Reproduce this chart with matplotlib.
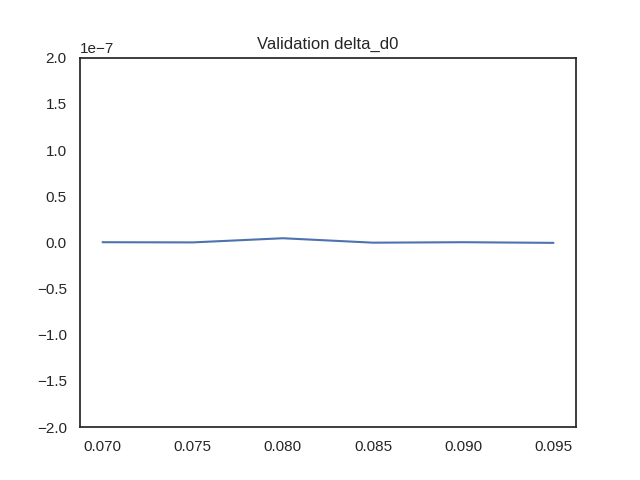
import matplotlib
matplotlib.use("Agg")
import matplotlib.pyplot as plt
import seaborn as sns

sns.set_theme(style="white")
plt.rcParams['font.family'] = ['Liberation Sans', 'DejaVu Sans']

# valores
d0 = [0.070, 0.075, 0.080, 0.085, 0.090, 0.095]
delta = [0.2e-9, 0.0, 4.5e-9, -0.3e-9, 0.2e-9, -0.5e-9]

fig, ax = plt.subplots(figsize=(6.4, 4.8), dpi=100)
ax.plot(d0, delta)
ax.set_ylim(-2e-7, 2e-7)
ax.set_title("Validation delta_d0")
for s in ax.spines.values():
    s.set_color("#262626")

fig.savefig("out.png")
